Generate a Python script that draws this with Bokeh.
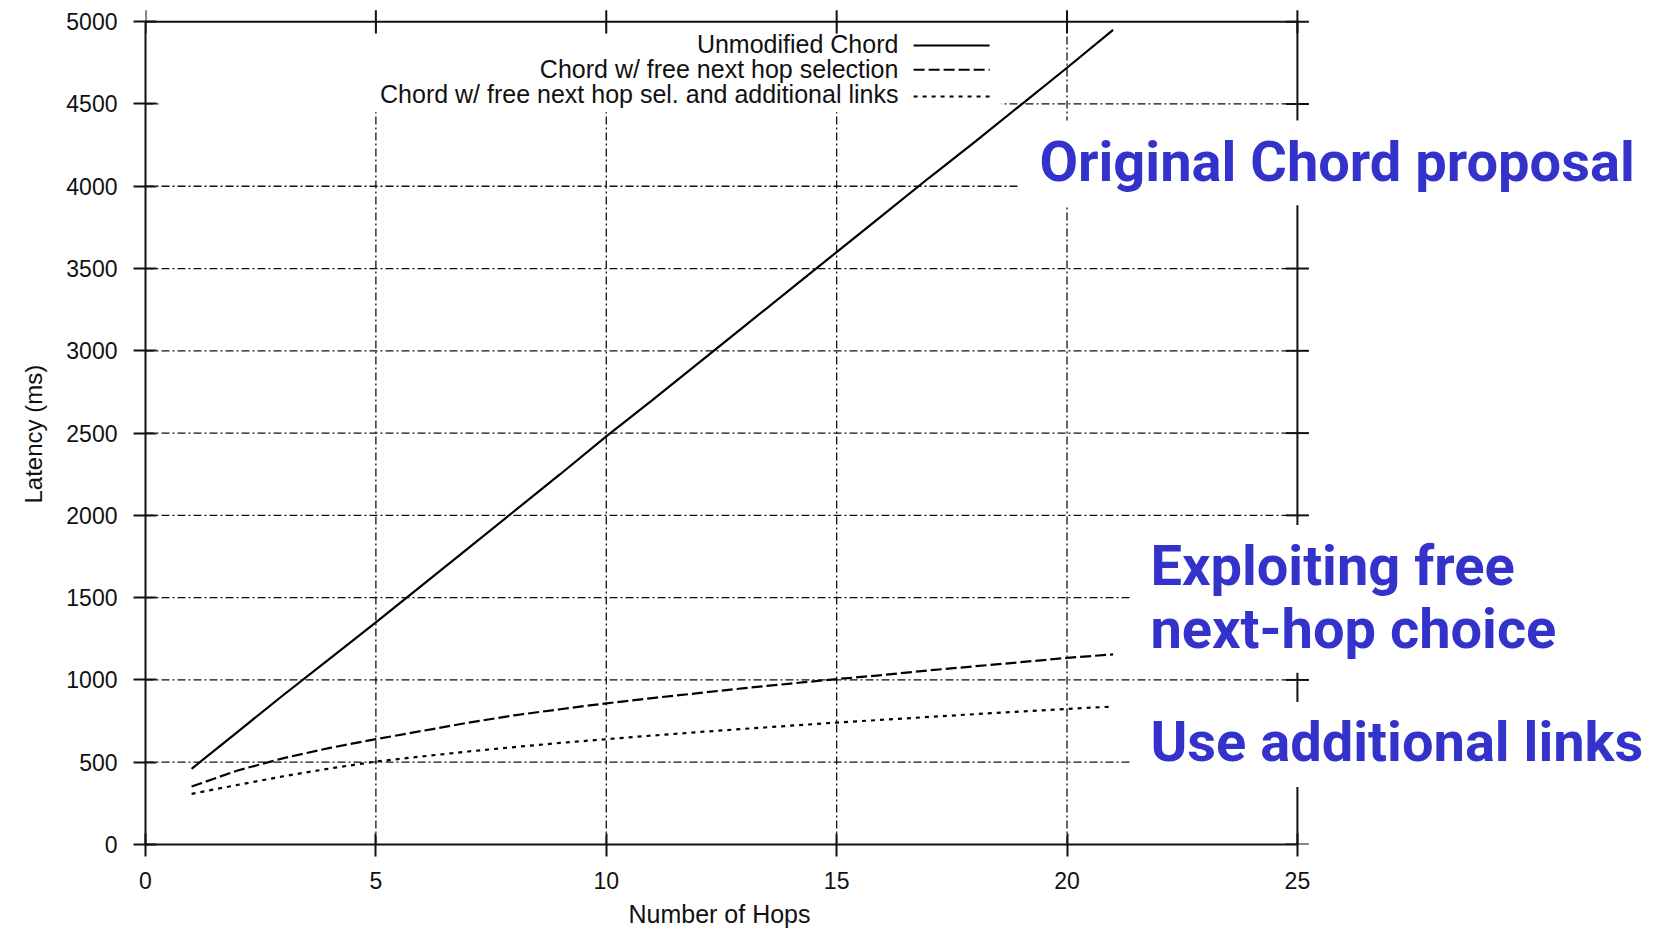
import math
from bokeh.plotting import figure
from bokeh.models import Range1d, FixedTicker, Label, BoxAnnotation, Title
from bokeh.embed import file_html
from bokeh.resources import INLINE

# ---- data ----
hops = [1, 2, 3, 4, 5, 6, 7, 8, 9, 10, 11, 12, 13, 14, 15, 16, 17, 18, 19, 20, 21]
unmodified = [460, 685, 910, 1130, 1350, 1575, 1800, 2025, 2250, 2480, 2700,
              2925, 3150, 3375, 3600, 3825, 4050, 4270, 4495, 4720, 4950]
free_next_hop = [352, 450, 525, 587, 640, 690, 740, 785, 822, 858, 890,
                 920, 950, 978, 1005, 1030, 1058, 1083, 1108, 1134, 1155]
additional_links = [308, 362, 415, 462, 504, 535, 565, 592, 617, 640, 662,
                    683, 703, 722, 741, 758, 775, 792, 808, 824, 838]
series_names = ["Unmodified Chord",
                "Chord w/ free next hop selection",
                "Chord w/ free next hop sel. and additional links"]
x_ticks = [0, 5, 10, 15, 20, 25]
y_ticks = [0, 500, 1000, 1500, 2000, 2500, 3000, 3500, 4000, 4500, 5000]
x_title = "Number of Hops"
y_title = "Latency (ms)"
annotations = ["Original Chord proposal", "Exploiting free", "next-hop choice",
               "Use additional links"]

# ---- layout / style constants ----
BLUE = "#3333cc"
INK = "#111111"
GRID_DASH = "8 3 2 3"
dashes = ["solid", "11 4", "4 5"]
X_VIEW_END = 32.88      # frame continues right of the plot box for the notes
Y_VIEW_END = 5128.7     # room above the plot box for the outward ticks

p = figure(width=1660, height=934,
           x_range=Range1d(0, X_VIEW_END), y_range=Range1d(0, Y_VIEW_END),
           output_backend="svg", toolbar_location=None,
           min_border_left=145, min_border_right=0, min_border_top=0,
           min_border_bottom=89)
p.outline_line_color = None
p.background_fill_color = "white"
p.border_fill_color = "white"
p.xgrid.visible = False
p.ygrid.visible = False

x0, x1 = x_ticks[0], x_ticks[-1]
y0, y1 = y_ticks[0], y_ticks[-1]

for ax in (p.xaxis[0], p.yaxis[0]):
    ax.axis_line_color = INK
    ax.axis_line_width = 2
    ax.major_tick_line_color = INK
    ax.major_tick_line_width = 2
    ax.major_tick_out = 12
    ax.major_tick_in = 11
    ax.minor_tick_line_color = None
    ax.major_label_text_font = "Liberation Sans"
    ax.major_label_text_font_size = "23px"
    ax.major_label_text_color = INK

p.xaxis.ticker = FixedTicker(ticks=x_ticks)
p.yaxis.ticker = FixedTicker(ticks=y_ticks)
p.xaxis.bounds = (x0, x1)
p.yaxis.bounds = (y0, y1)
p.xaxis.major_label_standoff = 15
p.yaxis.major_label_standoff = 16

# axis titles centred on the plot box (the frame extends beyond it)
p.add_layout(Title(text=x_title, align="left", offset=483, standoff=13,
                   text_font="Liberation Sans", text_font_size="25px",
                   text_font_style="normal", text_color=INK), "below")
p.add_layout(Title(text=y_title, align="left", offset=341, standoff=33,
                   text_font="Liberation Sans", text_font_size="24px",
                   text_font_style="normal", text_color=INK), "left")

# dash-dot grid inside the plot box
inner_x = x_ticks[1:-1]
inner_y = y_ticks[1:-1]
p.multi_line([[x, x] for x in inner_x], [[y0, y1] for _ in inner_x],
             line_color=INK, line_width=1.3, line_dash=GRID_DASH, level="image")
p.multi_line([[x0, x1] for _ in inner_y], [[y, y] for y in inner_y],
             line_color=INK, line_width=1.3, line_dash=GRID_DASH, level="image")

# top and right sides of the plot box, with their mirrored ticks
p.line([x0, x1], [y1, y1], line_color=INK, line_width=2)
p.line([x1, x1], [y0, y1], line_color=INK, line_width=2)
p.scatter(x_ticks, [y1] * len(x_ticks), marker="dash", size=23, angle=math.pi / 2,
          line_color=INK, line_width=2)
p.scatter([x1] * len(y_ticks), y_ticks, marker="dash", size=23,
          line_color=INK, line_width=2)

# legend background box (over grid, under glyphs)
p.add_layout(BoxAnnotation(left=0.295, right=18.574, bottom=4449, top=4916,
                           fill_color="white", fill_alpha=1.0, line_color=None,
                           level="underlay"))

for ys, dash in zip((unmodified, free_next_hop, additional_links), dashes):
    p.line(hops, ys, line_color="black", line_width=2.2, line_dash=dash)

# manual legend: label on the left, sample on the right
legend_label_y = [4863, 4715, 4559]
legend_line_y = [4856, 4708, 4546]
for name, ly, sy, dash in zip(series_names, legend_label_y, legend_line_y, dashes):
    p.add_layout(Label(x=16.34, y=ly, text=name, text_align="right",
                       text_baseline="alphabetic", text_font="Liberation Sans",
                       text_font_size="25px", text_color=INK))
    p.line([16.67, 18.32], [sy, sy], line_color="black", line_width=2, line_dash=dash)

# white boxes behind the blue notes (they hide grid and the right side)
for left, top, bottom in ((18.964, 4400, 3884), (21.395, 1941, 1043), (21.395, 866, 350)):
    p.add_layout(BoxAnnotation(left=left, top=top, bottom=bottom,
                               fill_color="white", fill_alpha=1.0, line_color=None))

ann_pos = [(19.40, 4147), (21.81, 1694), (21.81, 1311), (21.81, 625)]
for txt, (ax_, ay) in zip(annotations, ann_pos):
    p.add_layout(Label(x=ax_, y=ay, text=txt, text_align="left",
                       text_baseline="alphabetic", text_font="Roboto",
                       text_font_style="bold", text_font_size="56px",
                       text_color=BLUE))

open("out.html", "w").write(file_html(p, INLINE))
